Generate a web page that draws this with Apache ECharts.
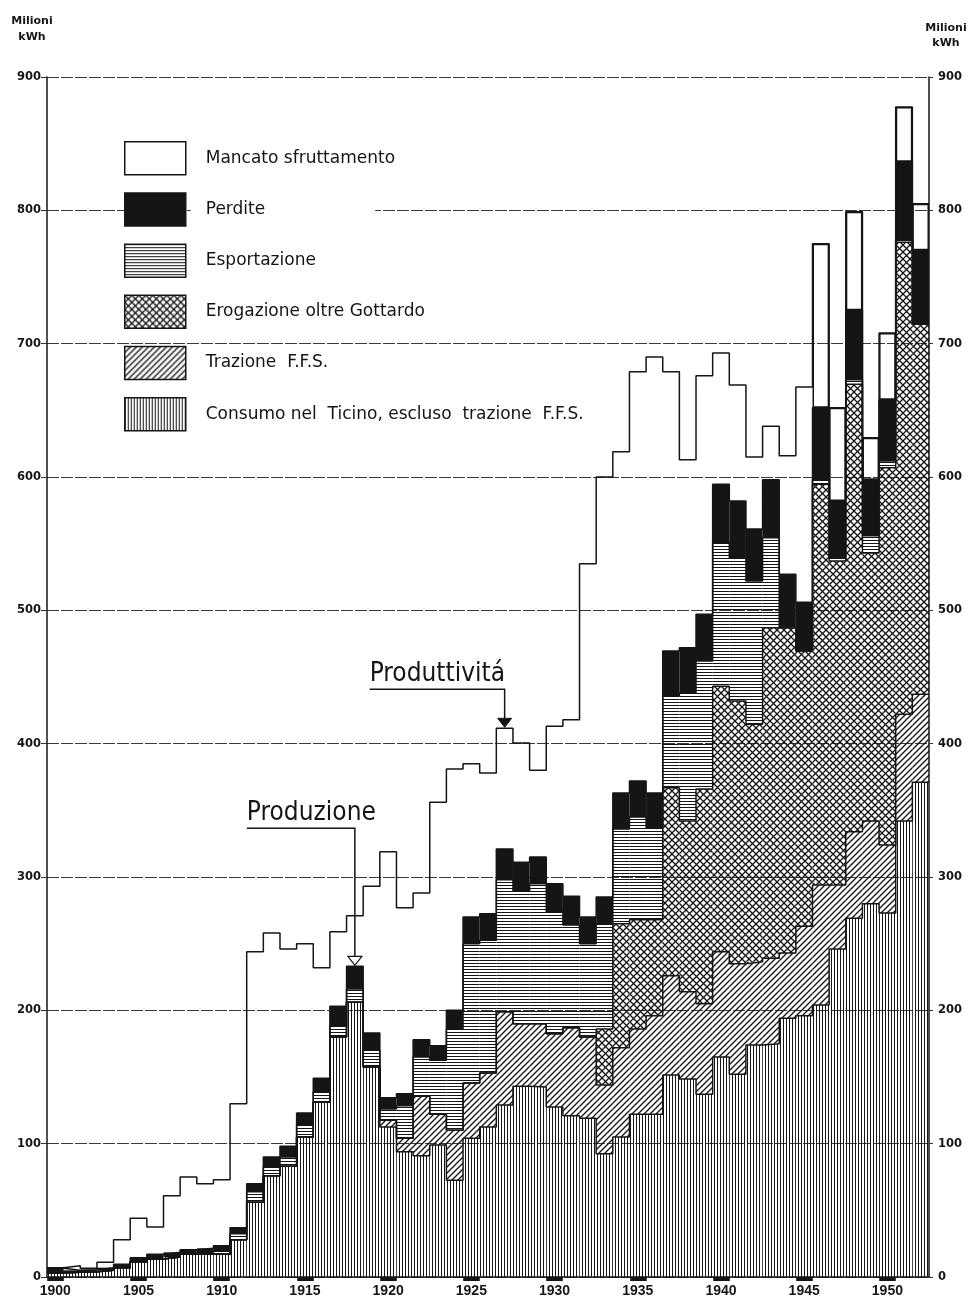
<!DOCTYPE html>
<html><head><meta charset="utf-8">
<script src="https://cdn.jsdelivr.net/npm/echarts@6/dist/echarts.min.js"></script>
<style>html,body{margin:0;padding:0;background:#fff}#c{width:970px;height:1299px}</style>
</head><body><div id="c"></div>
<script>
const years = ['1900','1901','1902','1903','1904','1905','1906','1907','1908','1909',
 '1910','1911','1912','1913','1914','1915','1916','1917','1918','1919',
 '1920','1921','1922','1923','1924','1925','1926','1927','1928','1929',
 '1930','1931','1932','1933','1934','1935','1936','1937','1938','1939',
 '1940','1941','1942','1943','1944','1945','1946','1947','1948','1949',
 '1950','1951','1952'];
// Milioni kWh per layer (bottom -> top)
const consumo = [3,3.5,4,5,7,11.5,13.5,15,17,17.5,
 17,28,56,76,83,105,131,180,206,157.5,
 112.5,94,91,99,72.5,104,112.5,129,143,142.5,
 127.5,121,119,92.5,105,122,122,151.5,148.5,137,
 165,152,174,175,194,196,204,246,269,280,
 273,342,371];
const trazione = [0,0,0,0,0,0,0,0,0,0,
 0,0,0,0,0,0,0,0,0,0,
 5,10,44.5,23,37.5,41.5,40.5,70,47,47.5,
 55,66,61,51.5,67,64,74,74.5,65.5,68,
 79,83,62.5,64,49,67,90,48,65,62,
 51,80,66];
const erogazione = [0,0,0,0,0,0,0,0,0,0,
 0,0,0,0,0,0,0,0,0,0,
 0,0,0,0,0,0,0,0,0,0,
 0,0,0,42,93,82,72,141,128,161,
 199,197,178,248,244,206.5,300.5,243,335.5,201,
 283,354,277.5];
const esportazione = [1,0,0,0,0,0,0,0,0,0,
 3,4.5,8,6.5,7,9,8,8,10,12.5,
 8.5,24.5,29.5,40.5,76,104.5,99.5,99,99.5,105,
 91.5,77,70,79,71,77,69,69,96,96,
 108,107.5,107.5,67.5,0,0,3.5,2.5,3.5,13,
 5,2,0];
const perdite = [2.5,1.5,1.5,2,2.5,3,3.5,3.5,3.5,4,
 3.5,4.5,6,7.5,8,9,10,15,17,13,
 8.5,9,13,11,14,20,20,23,21.5,20,
 21,21.5,20,20,27,27,26,33.5,34,35,
 43.5,42.5,39,43.5,40,36.5,54,42.5,52,42,
 46,58.5,55.5];
const mancato = [0.5,3.5,1,4,18.5,29.5,20.5,42.5,54.5,48.5,
 49.5,93,174,168,148,127,83,56,38,110,
 184.5,139.5,110,182.5,181,115,105.5,90.5,89.5,65,
 118,132.5,265,315,256,307,327,209.5,141,179,
 98.5,87,54,40,89,161.5,123,70,74,31.5,
 50,41,35];
const yTicks = [0,100,200,300,400,500,600,700,800,900];
const xLabelYears = ['1900','1905','1910','1915','1920','1925','1930','1935','1940','1945','1950'];
const names = ['Consumo nel  Ticino, escluso  trazione  F.F.S.','Trazione  F.F.S.','Erogazione oltre Gottardo','Esportazione','Perdite','Mancato sfruttamento'];

function pattern(kind, bg) {
  const s = (kind === 'vert' || kind === 'horiz') ? 3 : (kind === 'cross' ? 7 : 6);
  const c = document.createElement('canvas'); c.width = s; c.height = s;
  const g = c.getContext('2d');
  if (bg) { g.fillStyle = bg; g.fillRect(0, 0, s, s); }
  g.fillStyle = '#151515'; g.strokeStyle = '#151515'; g.lineWidth = 1.35;
  if (kind === 'vert') g.fillRect(0, 0, 1, s);
  else if (kind === 'horiz') g.fillRect(0, 0, s, 1);
  else {
    const diag = (dir) => {
      g.beginPath();
      if (dir > 0) { g.moveTo(-1, s + 1); g.lineTo(s + 1, -1); g.moveTo(-1, 1); g.lineTo(1, -1); g.moveTo(s - 1, s + 1); g.lineTo(s + 1, s - 1); }
      else { g.moveTo(-1, -1); g.lineTo(s + 1, s + 1); g.moveTo(s - 1, -1); g.lineTo(s + 1, 1); g.moveTo(-1, s - 1); g.lineTo(1, s + 1); }
      g.stroke();
    };
    diag(1); if (kind === 'cross') diag(-1);
  }
  return { image: c, repeat: 'repeat' };
}

const layers = [consumo, trazione, erogazione, esportazione, perdite, mancato];
const fills = [pattern('vert'), pattern('diag'), pattern('cross'), pattern('horiz'), '#151515', 'rgba(255,255,255,0)'];
const legendFills = [pattern('vert', '#fff'), pattern('diag', '#fff'), pattern('cross', '#fff'), pattern('horiz', '#fff'), '#151515', '#fff'];

// cumulative tops
const cum = [];
layers.forEach((arr, k) => {
  cum.push(arr.map((v, i) => v + (k > 0 ? cum[k - 1][i] : 0)));
});

const series = [];
layers.forEach((arr, k) => {
  series.push({
    name: names[k], type: 'bar', stack: 'tot', barCategoryGap: '0%',
    xAxisIndex: 0, yAxisIndex: 0, silent: true,
    itemStyle: { color: fills[k] },
    data: k === 5 ? arr.map((v, i) => (i >= 46 ? { value: v, itemStyle: { borderColor: '#151515', borderWidth: 1.5 } } : v)) : arr,
    z: 2
  });
});
cum.forEach((arr) => {
  series.push({
    type: 'line', xAxisIndex: 1, yAxisIndex: 0, silent: true, symbol: 'none', showSymbol: false,
    lineStyle: { color: '#151515', width: 1.5 }, z: 5,
    data: arr.flatMap((v, i) => [[i - 0.5, v], [i + 0.5, v]])
  });
});

const legendData = [5, 4, 3, 2, 1, 0].map(k => {
  const item = { name: names[k], itemStyle: { color: legendFills[k] } };
  if (k === 4) item.textStyle = { backgroundColor: '#fff', padding: [6, 110, 6, 15] };
  if (k === 1) item.textStyle = { backgroundColor: '#fff', padding: [6, 160, 6, 15] };
  return item;
});

const chart = echarts.init(document.getElementById('c'), null, { renderer: 'canvas' });
const tickFont = { fontFamily: 'DejaVu Sans', fontWeight: 'bold', fontSize: 11.5, color: '#151515' };
chart.setOption({
  animation: false,
  backgroundColor: '#fff',
  grid: { left: 47, right: 41, top: 77, bottom: 22, containLabel: false, outerBoundsMode: 'none' },
  xAxis: [
    { type: 'category', data: years, boundaryGap: true, gridIndex: 0,
      axisLine: { onZero: false, lineStyle: { color: '#151515', width: 1.5 } },
      axisTick: { show: true, alignWithLabel: true, length: 4, interval: (i, v) => xLabelYears.includes(v), lineStyle: { color: '#151515', width: 16.6 } },
      axisLabel: { interval: 0, formatter: v => (xLabelYears.includes(v) ? v : ''), margin: 7,
        fontFamily: 'Liberation Sans', fontWeight: 'bold', fontSize: 14, color: '#151515' },
      splitLine: { show: false } },
    { type: 'value', min: -0.5, max: 52.5, show: false, gridIndex: 0 }
  ],
  yAxis: [
    { type: 'value', min: yTicks[0], max: yTicks[yTicks.length - 1], interval: 100, position: 'left',
      axisLine: { show: true, onZero: false, lineStyle: { color: '#151515', width: 1.5 } },
      axisTick: { show: true, length: 6, lineStyle: { color: '#333' } },
      axisLabel: Object.assign({ margin: 6 }, tickFont),
      splitLine: { show: true, lineStyle: { color: '#3a3a3a', width: 1, type: [12, 2] } } },
    { type: 'value', min: yTicks[0], max: yTicks[yTicks.length - 1], interval: 100, position: 'right',
      axisLine: { show: true, onZero: false, lineStyle: { color: '#151515', width: 1.5 } },
      axisTick: { show: true, length: 4, lineStyle: { color: '#333' } },
      axisLabel: Object.assign({ margin: 9 }, tickFont),
      splitLine: { show: false } }
  ],
  legend: {
    orient: 'vertical', left: 124, top: 141, padding: 0, itemWidth: 61, itemHeight: 33, itemGap: 16.7,
    icon: 'rect', selectedMode: false,
    itemStyle: { borderColor: '#151515', borderWidth: 1.5 },
    textStyle: { fontFamily: 'DejaVu Sans', fontSize: 17, color: '#151515', padding: [0, 0, 0, 15] },
    data: legendData
  },
  series: series
});

const iA = years.indexOf('1927'), iB = years.indexOf('1918');
const pA = chart.convertToPixel({ xAxisIndex: 1, yAxisIndex: 0 }, [iA, cum[5][iA]]);
const pB = chart.convertToPixel({ xAxisIndex: 1, yAxisIndex: 0 }, [iB, cum[4][iB]]);
const annFont = '26px "DejaVu Sans Condensed", "Liberation Sans Narrow", sans-serif';
const lblFont = 'bold 11px "DejaVu Sans", sans-serif';
function txt(t, x, y, font, align, valign) {
  return { type: 'text', x: x, y: y, z: 20, silent: true,
    style: { text: t, font: font, fill: '#151515', align: align, textAlign: align, verticalAlign: valign, textVerticalAlign: valign } };
}
chart.setOption({
  graphic: [
    txt('Milioni', 32, 21, lblFont, 'center', 'middle'),
    txt('kWh', 32, 37, lblFont, 'center', 'middle'),
    txt('Milioni', 946, 28, lblFont, 'center', 'middle'),
    txt('kWh', 946, 43, lblFont, 'center', 'middle'),
    txt('Produttivitá', pA[0] - 135, pA[1] - 41, annFont, 'left', 'bottom'),
    { type: 'polyline', z: 20, silent: true, shape: { points: [[pA[0] - 135, pA[1] - 39], [pA[0], pA[1] - 39], [pA[0], pA[1] - 10]] },
      style: { stroke: '#151515', lineWidth: 1.5, fill: null } },
    { type: 'polygon', z: 20, silent: true, shape: { points: [[pA[0] - 7, pA[1] - 10], [pA[0] + 7, pA[1] - 10], [pA[0], pA[1] - 1]] },
      style: { fill: '#151515', stroke: '#151515', lineWidth: 1 } },
    txt('Produzione', pB[0] - 108, pB[1] - 140, annFont, 'left', 'bottom'),
    { type: 'polyline', z: 20, silent: true, shape: { points: [[pB[0] - 108, pB[1] - 138], [pB[0], pB[1] - 138], [pB[0], pB[1] - 10]] },
      style: { stroke: '#151515', lineWidth: 1.5, fill: null } },
    { type: 'polygon', z: 20, silent: true, shape: { points: [[pB[0] - 7, pB[1] - 10], [pB[0] + 7, pB[1] - 10], [pB[0], pB[1] - 1]] },
      style: { fill: '#fff', stroke: '#151515', lineWidth: 1.2 } }
  ]
});
</script></body></html>
